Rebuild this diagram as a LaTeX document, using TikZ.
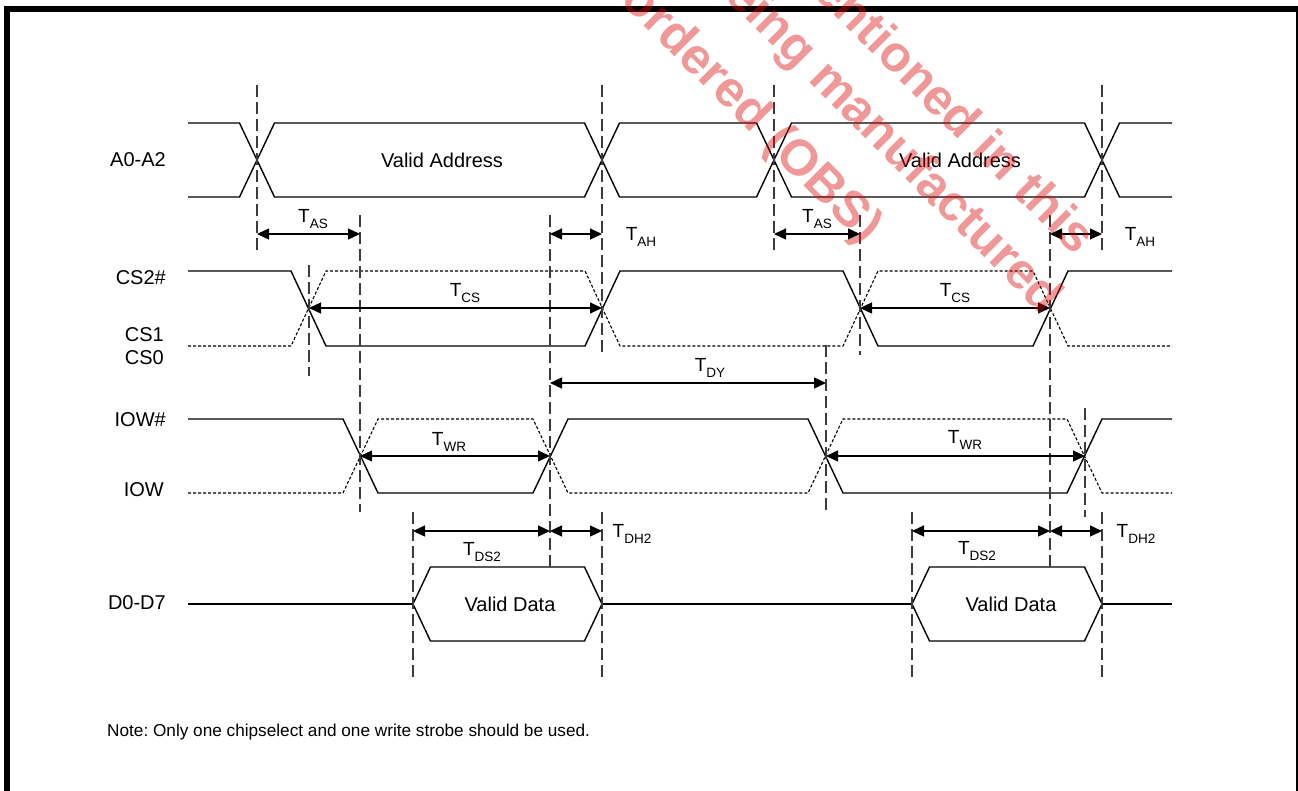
\documentclass[tikz,border=0pt]{standalone}
\usepackage{fontspec}
\setmainfont{Liberation Sans}
\usetikzlibrary{arrows.meta}
\frenchspacing
\definecolor{guidegray}{RGB}{60,60,60}
\definecolor{wmred}{RGB}{220,10,10}
\newcommand{\Tsub}[1]{T\raisebox{-6pt}{\fontsize{13.5}{14}\selectfont #1}}
\tikzset{
  sig/.style={line width=1.4pt, line join=miter},
  alt/.style={line width=1.1pt, dash pattern=on 3pt off 2pt},
  guide/.style={line width=1.3pt, draw=guidegray, dash pattern=on 12pt off 5pt},
  dim/.style={line width=1.3pt, {Triangle[length=12pt,width=11pt]}-{Triangle[length=12pt,width=11pt]}},
  lbl/.style={font=\fontsize{20}{24}\selectfont, inner sep=0pt},
  sname/.style={lbl, anchor=east},
  tlab/.style={inner sep=0pt, font=\fontsize{19}{22}\selectfont},
  wm/.style={inner sep=0pt, rotate=-45, anchor=base east, text=wmred, text opacity=0.42,
             font=\fontsize{50.4}{60}\selectfont\bfseries},
}
\begin{document}
\begin{tikzpicture}[x=1pt,y=-1pt]
\useasboundingbox (0,0) rectangle (1298,790);
\clip (0,0) rectangle (1298,790);
% frame
\draw[line width=6pt] (7,800) -- (7,9) -- (1299,9) -- (1299,800);

% signal names
\node[sname] (nA) at (166,160) {A0-A2};
\node[sname] (nCS2) at (166,278) {CS2\#};
\node[sname] (nCS1) at (164,335) {CS1};
\node[sname] (nCS0) at (164,358) {CS0};
\node[sname] (nIOWn) at (166,420) {IOW\#};
\node[sname] (nIOW) at (164,490) {IOW};
\node[sname] (nD) at (166,603) {D0-D7};

% A0-A2 bus
\draw[sig] (188,123)--(239.5,123)--(274.5,197)--(584.5,197)--(619.5,123)--(756.5,123)--(791.5,197)--(1084.5,197)--(1119.5,123)--(1172,123);
\draw[sig] (188,197)--(239.5,197)--(274.5,123)--(584.5,123)--(619.5,197)--(756.5,197)--(791.5,123)--(1084.5,123)--(1119.5,197)--(1172,197);
\node[lbl] (va1) at (442,160) {Valid Address};
\node[lbl] (va2) at (960,160) {Valid Address};

% CS
\draw[sig] (188,271)--(291,271)--(326,346)--(585,346)--(620,271)--(843,271)--(878,346)--(1033,346)--(1068,271)--(1172,271);
\draw[alt] (188,346)--(291,346)--(326,271)--(585,271)--(620,346)--(843,346)--(878,271)--(1033,271)--(1068,346)--(1172,346);

% IOW
\draw[sig] (188,419)--(343,419)--(378,493)--(533,493)--(568,419)--(808,419)--(843,493)--(1067,493)--(1102,419)--(1172,419);
\draw[alt] (188,493)--(343,493)--(378,419)--(533,419)--(568,493)--(808,493)--(843,419)--(1067,419)--(1102,493)--(1172,493);

% Data
\draw[sig] (188,604)--(413,604);
\draw[sig] (413,604)--(430.5,567)--(584.5,567)--(602,604)--(584.5,641)--(430.5,641)--cycle;
\draw[sig] (602,604)--(912,604);
\draw[sig] (912,604)--(929.5,567)--(1084.5,567)--(1102,604)--(1084.5,641)--(929.5,641)--cycle;
\draw[sig] (1102,604)--(1172,604);
\node[lbl] (vd1) at (510,604) {Valid Data};
\node[lbl] (vd2) at (1011,604) {Valid Data};

% guide lines
\draw[guide] (257,85)--(257,252);
\draw[guide] (602,85)--(602,355);
\draw[guide] (774,85)--(774,252);
\draw[guide] (1102,85)--(1102,252);
\draw[guide] (360,215)--(360,512);
\draw[guide] (550,215)--(550,567);
\draw[guide] (860,215)--(860,355);
\draw[guide] (1050,215)--(1050,567);
\draw[guide] (309,265)--(309,376);
\draw[guide] (826,345)--(826,512);
\draw[guide] (1085,408)--(1085,517);
\draw[guide] (413,512)--(413,677);
\draw[guide] (602,512)--(602,677);
\draw[guide] (912,512)--(912,677);
\draw[guide] (1102,512)--(1102,677);

% dimension end points
\coordinate (a1) at (257,234); \coordinate (a2) at (360,234);
\coordinate (a3) at (550,234); \coordinate (a4) at (602,234);
\coordinate (a5) at (774,234); \coordinate (a6) at (860,234);
\coordinate (a7) at (1050,234); \coordinate (a8) at (1102,234);
\coordinate (c1) at (309,308); \coordinate (c2) at (602,308);
\coordinate (c3) at (860,308); \coordinate (c4) at (1050,308);
\coordinate (y1) at (550,383); \coordinate (y2) at (826,383);
\coordinate (w1) at (360,456); \coordinate (w2) at (550,456);
\coordinate (w3) at (826,456); \coordinate (w4) at (1085,456);
\coordinate (d1) at (413,531); \coordinate (d2) at (550,531); \coordinate (d3) at (602,531);
\coordinate (d4) at (912,531); \coordinate (d5) at (1050,531); \coordinate (d6) at (1102,531);

\draw[dim] (a1)--(a2);
\draw[dim] (a3)--(a4);
\draw[dim] (a5)--(a6);
\draw[dim] (a7)--(a8);
\draw[dim] (c1)--(c2);
\draw[dim] (c3)--(c4);
\draw[dim] (y1)--(y2);
\draw[dim] (w1)--(w2);
\draw[dim] (w3)--(w4);
\draw[dim] (d1)--(d2);
\draw[dim] (d2)--(d3);
\draw[dim] (d4)--(d5);
\draw[dim] (d5)--(d6);

\node[tlab] (tas1) at (313,219) {\Tsub{AS}};
\node[tlab] (tah1) at (641,237) {\Tsub{AH}};
\node[tlab] (tas2) at (817,219) {\Tsub{AS}};
\node[tlab] (tah2) at (1140,237) {\Tsub{AH}};
\node[tlab] (tcs1) at (465,293) {\Tsub{CS}};
\node[tlab] (tcs2) at (955,293) {\Tsub{CS}};
\node[tlab] (tdy) at (710,368) {\Tsub{DY}};
\node[tlab] (twr1) at (449,442) {\Tsub{WR}};
\node[tlab] (twr2) at (965,440) {\Tsub{WR}};
\node[tlab] (tds1) at (482,552) {\Tsub{DS2}};
\node[tlab] (tdh1) at (632,534) {\Tsub{DH2}};
\node[tlab] (tds2) at (977,551) {\Tsub{DS2}};
\node[tlab] (tdh2) at (1136,534) {\Tsub{DH2}};

% note
\node[inner sep=0pt, anchor=west, font=\fontsize{17.2}{20}\selectfont] (note) at (107,732)
  {Note: Only one chipselect and one write strobe should be used.};

% watermark
\node[wm] (wmA) at (1075.4,256.6) {mentioned in this};
\node[wm] (wmB) at (1042.8,316) {being manufactured};
\node[wm] (wmC) at (863.2,245.3) {ordered (OBS)};
\end{tikzpicture}
\end{document}
